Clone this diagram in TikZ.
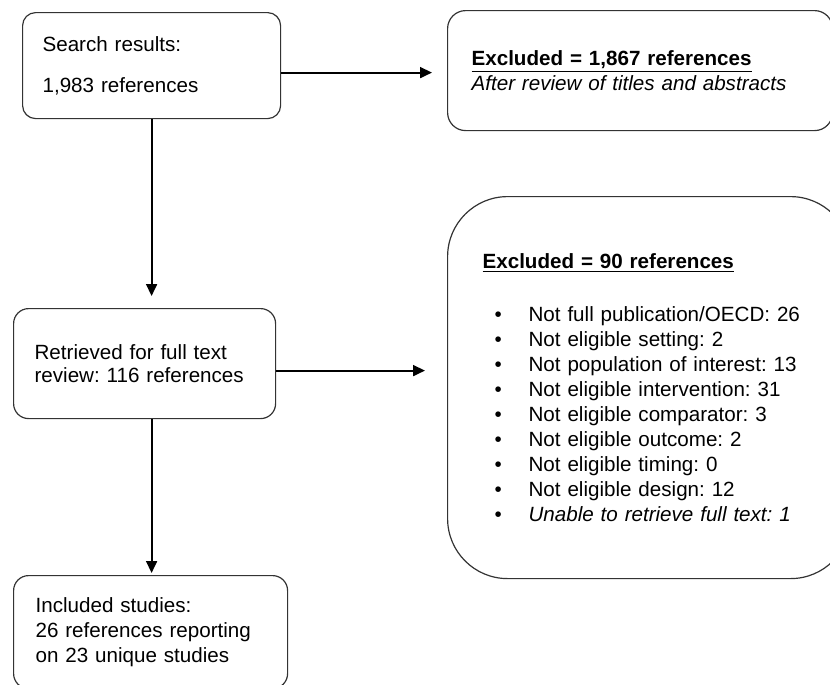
\documentclass[tikz,border=0pt]{standalone}
\usepackage{fontspec}
\setmainfont{Liberation Sans}
\usetikzlibrary{arrows.meta}
\frenchspacing

\tikzset{
	caja/.style={draw=black!80, line width=0.6pt, align=left, anchor=north west, inner ysep=0pt, font=\fontsize{10.3}{12.5}\selectfont},
	flecha/.style={-{Triangle[length=6pt,width=5.5pt]}, line width=0.9pt}
}
\newcommand{\vineta}[1]{\hspace*{6pt}\makebox[17pt][l]{\textbullet}#1}

\begin{document}
\begin{tikzpicture}[x=0.5pt,y=-0.5pt]

		\clip (0,0) rectangle (830,685);

		\node[caja, rounded corners=6.5pt, minimum height=53pt, text width=109pt, inner xsep=10pt] (busqueda) at (22,12) {Search results:\\[8pt]1,983 references}; %Caja
		\node[caja, rounded corners=9pt, minimum height=60pt, text width=168.5pt, inner xsep=12pt] (excl1) at (447,10) {\underline{\textbf{Excluded = 1,867 references}}\\\textit{After review of titles and abstracts}}; %Caja
		\node[caja, rounded corners=7.5pt, minimum height=55pt, text width=110pt, inner xsep=10.5pt] (revision) at (13,308) {Retrieved for full text\\[-1.2pt]review: 116 references}; %Caja
		\node[caja, rounded corners=30pt, minimum height=191pt, text width=166.5pt, inner xsep=17.5pt] (excl2) at (447,196) {\underline{\textbf{Excluded = 90 references}}\\[14pt]
			\vineta{Not full publication/OECD: 26}\\
			\vineta{Not eligible setting: 2}\\
			\vineta{Not population of interest: 13}\\
			\vineta{Not eligible intervention: 31}\\
			\vineta{Not eligible comparator: 3}\\
			\vineta{Not eligible outcome: 2}\\
			\vineta{Not eligible timing: 0}\\
			\vineta{Not eligible design: 12}\\
			\vineta{\textit{Unable to retrieve full text: 1}}}; %Caja
		\node[caja, rounded corners=7.5pt, minimum height=56.5pt, text width=115pt, inner xsep=11pt] (incluidos) at (13,575) {Included studies:\\26 references reporting\\on 23 unique studies}; %Caja

		\draw[flecha, shorten >=7.5pt] ([yshift=-3.5pt]busqueda.east) -- ([yshift=-1pt]excl1.west);
		\draw[flecha, shorten >=6pt] (busqueda.south) -- (busqueda.south |- revision.north);
		\draw[flecha, shorten >=11pt] ([yshift=-3.5pt]revision.east) -- ([yshift=8.5pt]excl2.west);
		\draw[flecha, shorten >=1pt] (busqueda.south |- revision.south) -- (busqueda.south |- incluidos.north);

	\end{tikzpicture}
\end{document}
